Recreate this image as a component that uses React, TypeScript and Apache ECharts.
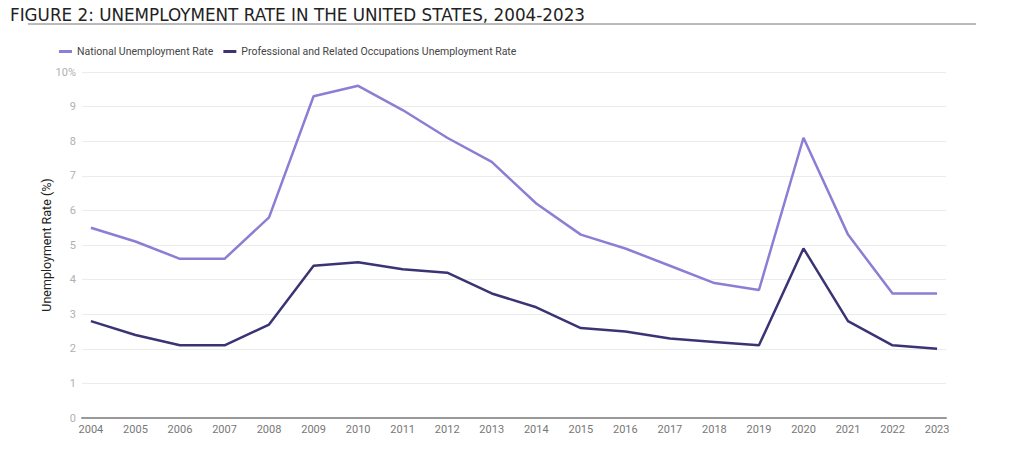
import React, { useEffect, useRef } from "react";
import * as echarts from "echarts";

const years = ["2004","2005","2006","2007","2008","2009","2010","2011","2012","2013","2014","2015","2016","2017","2018","2019","2020","2021","2022","2023"];
const nationalRate = [5.5, 5.1, 4.6, 4.6, 5.8, 9.3, 9.6, 8.9, 8.1, 7.4, 6.2, 5.3, 4.9, 4.4, 3.9, 3.7, 8.1, 5.3, 3.6, 3.6];
const professionalRate = [2.8, 2.4, 2.1, 2.1, 2.7, 4.4, 4.5, 4.3, 4.2, 3.6, 3.2, 2.6, 2.5, 2.3, 2.2, 2.1, 4.9, 2.8, 2.1, 2.0];
const seriesNames = ["National Unemployment Rate", "Professional and Related Occupations Unemployment Rate"];
const titleText = "FIGURE 2: UNEMPLOYMENT RATE IN THE UNITED STATES, 2004-2023";
const yAxisTitle = "Unemployment Rate (%)";

export default function App() {
  const ref = useRef<HTMLDivElement>(null);
  useEffect(() => {
    if (!ref.current) return;
    const chart = echarts.init(ref.current, null, { renderer: "svg" });
    const idx = years.map((_, i) => i);
    chart.setOption({
      animation: false,
      backgroundColor: "#fff",
      textStyle: { fontFamily: "Roboto" },
      title: {
        text: titleText,
        left: 5,
        top: 1,
        textStyle: { fontFamily: "DejaVu Sans", fontSize: 16.8, fontWeight: "normal", color: "#222" },
      },
      graphic: [
        { type: "line", shape: { x1: 28, y1: 24, x2: 976, y2: 24 }, style: { stroke: "#777", lineWidth: 1 } },
      ],
      legend: {
        left: 54,
        top: 41,
        itemWidth: 13,
        itemHeight: 3,
        itemGap: 10,
        icon: "rect",
        textStyle: { fontSize: 10.5, color: "#444", fontFamily: "Roboto" },
        data: seriesNames,
      },
      grid: { left: 82, right: 78, top: 72, bottom: 38 },
      xAxis: {
        type: "value",
        min: -0.2,
        max: 19.2,
        axisLine: { show: true, lineStyle: { color: "#999", width: 2 } },
        axisTick: { show: false },
        splitLine: { show: false },
        axisLabel: {
          customValues: idx,
          formatter: (v: number) => years[Math.round(v)],
          color: "#777",
          fontSize: 11,
          margin: 6,
        },
      },
      yAxis: {
        type: "value",
        min: 0,
        max: 10,
        interval: 1,
        name: yAxisTitle,
        nameLocation: "middle",
        nameGap: 29,
        nameMoveOverlap: false,
        nameTextStyle: { fontSize: 12.5, color: "#222", fontFamily: "Roboto" },
        axisLine: { show: false },
        axisTick: { show: false },
        splitLine: { lineStyle: { color: "#ececec", width: 1 } },
        axisLabel: {
          color: "#b0b0b0",
          fontSize: 11,
          margin: 6,
          formatter: (v: number) => (v === 10 ? "10%" : String(v)),
        },
      },
      series: [
        {
          name: seriesNames[0],
          type: "line",
          data: nationalRate.map((v, i) => [i, v]),
          showSymbol: false,
          symbol: "none",
          lineStyle: { color: "#8a7fd4", width: 2.5 },
          itemStyle: { color: "#8a7fd4" },
        },
        {
          name: seriesNames[1],
          type: "line",
          data: professionalRate.map((v, i) => [i, v]),
          showSymbol: false,
          symbol: "none",
          lineStyle: { color: "#3a3475", width: 2.5 },
          itemStyle: { color: "#3a3475" },
        },
      ],
    });
    return () => chart.dispose();
  }, []);
  return <div ref={ref} style={{ position: "fixed", left: 0, top: 0, width: 1024, height: 456 }} />;
}
